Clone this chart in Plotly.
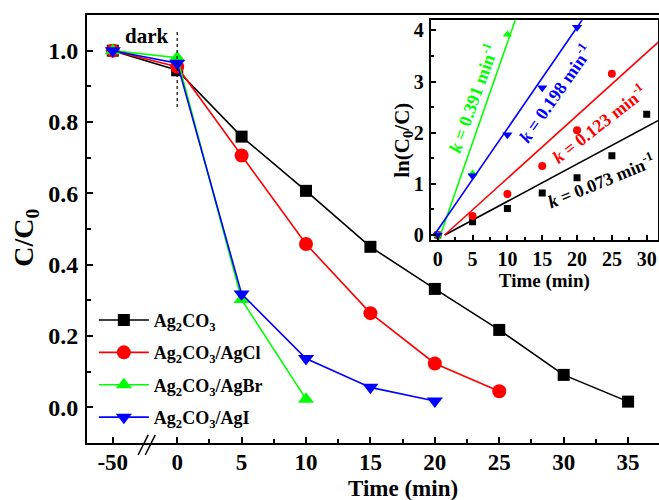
import plotly.graph_objects as go

# ---- main panel: C/C0 versus time (dark adsorption at -50 min, then irradiation) ----
time_ag2co3 = [-50, 0, 5, 10, 15, 20, 25, 30, 35]
cc0_ag2co3 = [1.0, 0.945, 0.759, 0.607, 0.450, 0.332, 0.217, 0.091, 0.016]

time_agcl = [-50, 0, 5, 10, 15, 20, 25]
cc0_agcl = [1.0, 0.955, 0.706, 0.458, 0.264, 0.123, 0.045]

time_agbr = [-50, 0, 5, 10]
cc0_agbr = [1.0, 0.980, 0.302, 0.023]

time_agi = [-50, 0, 5, 10, 15, 20]
cc0_agi = [1.0, 0.965, 0.318, 0.137, 0.056, 0.018]

x_tick_times = [-50, 0, 5, 10, 15, 20, 25, 30, 35]
x_tick_labels = ["-50", "0", "5", "10", "15", "20", "25", "30", "35"]
y_tick_vals = [0.0, 0.2, 0.4, 0.6, 0.8, 1.0]
y_tick_labels = ["0.0", "0.2", "0.4", "0.6", "0.8", "1.0"]

# ---- inset: ln(C0/C) versus irradiation time with linear fits ----
inset_t_ag2co3 = [0, 5, 10, 15, 20, 25, 30]
inset_ln_ag2co3 = [0.0, 0.26, 0.52, 0.82, 1.12, 1.55, 2.36]
inset_t_agcl = [0, 5, 10, 15, 20, 25]
inset_ln_agcl = [0.0, 0.37, 0.80, 1.35, 2.05, 3.15]
inset_t_agbr = [0, 5, 10]
inset_ln_agbr = [0.0, 1.20, 3.92]
inset_t_agi = [0, 5, 10, 15, 20]
inset_ln_agi = [0.0, 1.16, 1.96, 2.88, 4.06]

rate_k = {"ag2co3": 0.073, "agcl": 0.123, "agbr": 0.391, "agi": 0.198}
fit_intercept = {"ag2co3": -0.073, "agcl": -0.123, "agbr": -0.15, "agi": 0.10}
fit_start = {"ag2co3": 1.0, "agcl": 1.0, "agbr": 0.0, "agi": -0.3}
fit_end = 32.0

SERIF = "Liberation Serif"
BLACK, RED, GREEN, BLUE = "#000000", "#FF0000", "#00FF00", "#0000FF"


def axis_pos(t):
    """Broken time axis: the dark period (-50 min) is compressed tenfold."""
    return t if t >= 0 else t / 10.0


def mapped(ts):
    return [axis_pos(t) for t in ts]


fig = go.Figure()

main_series = [
    ("Ag<sub>2</sub>CO<sub>3</sub>", time_ag2co3, cc0_ag2co3, BLACK, "square", 12),
    ("Ag<sub>2</sub>CO<sub>3</sub>/AgCl", time_agcl, cc0_agcl, RED, "circle", 14),
    ("Ag<sub>2</sub>CO<sub>3</sub>/AgBr", time_agbr, cc0_agbr, GREEN, "triangle-up", 14),
    ("Ag<sub>2</sub>CO<sub>3</sub>/AgI", time_agi, cc0_agi, BLUE, "triangle-down", 14),
]
for i, (name, ts, vs, color, symbol, size) in enumerate(main_series):
    fig.add_trace(go.Scatter(
        x=mapped(ts), y=vs, mode="lines+markers", name=name,
        line=dict(color=color, width=1.6),
        marker=dict(symbol=symbol, size=size, color=color, line=dict(width=0)),
        legendgroup=f"g{i}", xaxis="x", yaxis="y",
    ))

# inset scatter points and first-order fits
inset_series = [
    ("ag2co3", inset_t_ag2co3, inset_ln_ag2co3, BLACK, "square", 7),
    ("agcl", inset_t_agcl, inset_ln_agcl, RED, "circle", 8),
    ("agbr", inset_t_agbr, inset_ln_agbr, GREEN, "triangle-up", 8),
    ("agi", inset_t_agi, inset_ln_agi, BLUE, "triangle-down", 9),
]
for key, ts, vs, color, symbol, size in inset_series:
    x0, x1 = fit_start[key], fit_end
    fig.add_trace(go.Scatter(
        x=[x0, x1],
        y=[fit_intercept[key] + rate_k[key] * x0, fit_intercept[key] + rate_k[key] * x1],
        mode="lines", line=dict(color=color, width=1.6),
        showlegend=False, xaxis="x2", yaxis="y2", cliponaxis=True,
    ))
    fig.add_trace(go.Scatter(
        x=ts, y=vs, mode="markers",
        marker=dict(symbol=symbol, size=size, color=color, line=dict(width=0)),
        showlegend=False, xaxis="x2", yaxis="y2",
    ))

main_font = dict(family=SERIF, size=23, color="black", weight="bold")
inset_font = dict(family=SERIF, size=20, color="black", weight="bold")

fig.update_layout(
    width=659, height=500,
    margin=dict(l=87, r=0, t=15, b=57),
    paper_bgcolor="white", plot_bgcolor="white",
    font=dict(family=SERIF, color="black"),
    xaxis=dict(
        domain=[0, 1], range=[-7.0, 37.4],
        tickmode="array", tickvals=mapped(x_tick_times), ticktext=x_tick_labels,
        ticks="inside", ticklen=6, tickwidth=1.5, tickcolor="black",
        minor=dict(tickmode="array", tickvals=[2.5 + 5 * i for i in range(7)],
                   ticks="inside", ticklen=4, tickwidth=1.5, tickcolor="black"),
        showline=True, linewidth=2, linecolor="black", mirror=True,
        showgrid=False, zeroline=False, tickfont=main_font,
        ticklabelstandoff=-3,
    ),
    yaxis=dict(
        domain=[0, 1], range=[-0.1, 1.1],
        tickmode="array", tickvals=y_tick_vals, ticktext=y_tick_labels,
        ticks="inside", ticklen=6, tickwidth=1.5, tickcolor="black",
        minor=dict(tickmode="array", tickvals=[0.1, 0.3, 0.5, 0.7, 0.9],
                   ticks="inside", ticklen=4, tickwidth=1.5, tickcolor="black"),
        showline=True, linewidth=2, linecolor="black", mirror=False,
        showgrid=False, zeroline=False,
        tickfont=dict(family=SERIF, size=24, color="black", weight="bold"),
        ticklabelstandoff=2,
    ),
    xaxis2=dict(
        domain=[0.601, 0.998], anchor="y2", range=[-1.0, 31.6],
        tickmode="array", tickvals=[0, 5, 10, 15, 20, 25, 30],
        ticks="inside", ticklen=5, tickwidth=1.5, tickcolor="black",
        minor=dict(tickmode="array", tickvals=[2.5 + 5 * i for i in range(6)],
                   ticks="inside", ticklen=3, tickwidth=1.5, tickcolor="black"),
        showline=True, linewidth=2, linecolor="black", mirror=True,
        showgrid=False, zeroline=False, tickfont=inset_font, ticklabelstandoff=0,
        title=dict(text="Time (min)", font=dict(family=SERIF, size=19, color="black", weight="bold"),
                   standoff=0),
    ),
    yaxis2=dict(
        domain=[0.474, 0.988], anchor="x2", range=[-0.1, 4.2],
        tickmode="array", tickvals=[0, 1, 2, 3, 4],
        ticks="inside", ticklen=5, tickwidth=1.5, tickcolor="black",
        minor=dict(tickmode="array", tickvals=[0.5, 1.5, 2.5, 3.5],
                   ticks="inside", ticklen=3, tickwidth=1.5, tickcolor="black"),
        showline=True, linewidth=2, linecolor="black", mirror=True,
        showgrid=False, zeroline=False, tickfont=inset_font, ticklabelstandoff=1,
    ),
    legend=dict(
        x=0.012, y=0.33, xanchor="left", yanchor="top",
        bgcolor="rgba(0,0,0,0)", borderwidth=0,
        font=dict(family=SERIF, size=18, weight="bold"),
        tracegroupgap=6, itemwidth=50,
    ),
    showlegend=True,
)

# axis titles of the main panel
fig.add_annotation(x=0.552, y=-0.1055, xref="paper", yref="paper", text="Time (min)",
                   showarrow=False, yanchor="middle",
                   font=dict(family=SERIF, size=23, color="black", weight="bold"))
fig.add_annotation(x=-0.108, y=0.48, xref="paper", yref="paper", text="C/C<sub>0</sub>",
                   showarrow=False, textangle=-90, xanchor="center",
                   font=dict(family=SERIF, size=28, color="black", weight="bold"))
# inset y-axis title
fig.add_annotation(x=0.552, y=0.708, xref="paper", yref="paper", text="ln(C<sub>0</sub>/C)",
                   showarrow=False, textangle=-90, xanchor="center", yanchor="middle",
                   font=dict(family=SERIF, size=21, color="black", weight="bold"))

# white panel behind the inset
fig.add_shape(type="rect", xref="x2 domain", yref="y2 domain", x0=0, x1=1, y0=0, y1=1,
              fillcolor="white", line=dict(width=0), layer="below")

# dotted divider marking the end of the dark period
fig.add_shape(type="line", xref="x", yref="y", x0=0, x1=0, y0=0.842, y1=1.061,
              line=dict(color="black", width=1.2, dash="dot"))
fig.add_annotation(x=-2.37, y=1.04, xref="x", yref="y", text="dark", showarrow=False,
                   font=dict(family=SERIF, size=21, color="black", weight="bold"))

# axis-break marks on the time axis
for dx in (0.0, 0.55):
    fig.add_shape(type="line", xref="x", yref="paper",
                  x0=-3.03 + dx, x1=-2.25 + dx, y0=-0.028, y1=0.019,
                  line=dict(color="black", width=1.5))

# rate-constant labels on the inset fits
k_labels = [
    ("agbr", 5.0, 2.67, -70, GREEN),
    ("agi", 16.8, 2.77, -55, BLUE),
    ("agcl", 23.2, 2.18, -38, RED),
    ("ag2co3", 23.5, 1.07, -22, BLACK),
]
for key, tx, ty, ang, color in k_labels:
    fig.add_annotation(
        x=tx, y=ty, xref="x2", yref="y2", showarrow=False, textangle=ang,
        text=f"<i>k</i> = {rate_k[key]:.3f} min<sup>-1</sup>",
        font=dict(family=SERIF, size=18, color=color, weight="bold"),
    )

fig.write_html("out.html")
